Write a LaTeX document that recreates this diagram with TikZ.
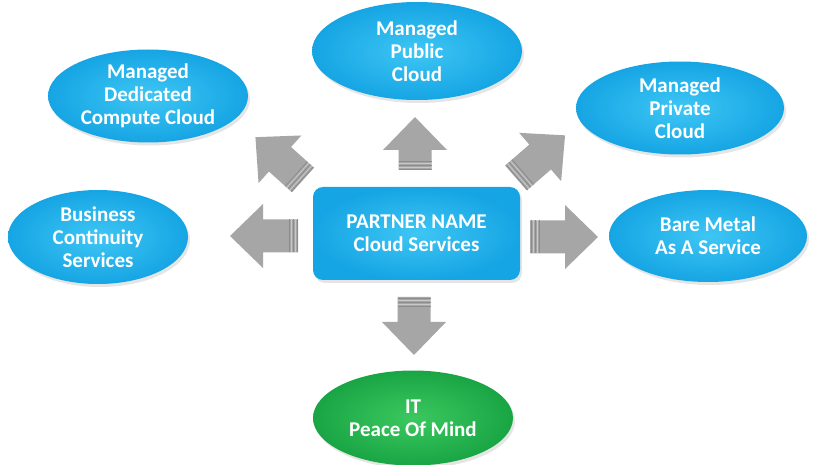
\documentclass[tikz,border=0pt]{standalone}
\usepackage{fontspec}
\setmainfont{Carlito}
\usetikzlibrary{shapes.geometric,shadows}
\definecolor{cyanIn}{RGB}{62,198,244}
\definecolor{cyanOut}{RGB}{22,165,228}
\definecolor{greenIn}{RGB}{60,200,95}
\definecolor{greenOut}{RGB}{25,165,68}
\definecolor{arrowGray}{RGB}{166,166,166}
\definecolor{stripeDark}{RGB}{140,140,140}
\definecolor{stripeLight}{RGB}{200,200,200}
\tikzset{
  cloudnode/.style={ellipse, draw=none, inner color=cyanIn, outer color=cyanOut,
    text=white, align=center, inner xsep=0pt, inner ysep=-10pt,
    drop shadow={opacity=0.2, shadow xshift=2pt, shadow yshift=-3pt}},
  greennode/.style={cloudnode, inner color=greenIn, outer color=greenOut},
  centerbox/.style={rectangle, rounded corners=10pt, draw=none, inner color=cyanIn,
    outer color=cyanOut, text=white, align=center,
    drop shadow={opacity=0.2, shadow xshift=2pt, shadow yshift=-3pt}},
  arrowbody/.style={fill=arrowGray, draw=none},
  stripeD/.style={draw=stripeDark, line width=0.8pt},
  stripeL/.style={draw=stripeLight, line width=0.8pt}
}
% #1 tail x, #2 tail y, #3 angle, #4 length
\newcommand{\blockarrow}[4]{%
  \begin{scope}[shift={(#1,#2)}, rotate=#3]
    \fill[arrowbody] (0,-16.5) -- (#4-33,-16.5) -- (#4-33,-32) -- (#4,0)
      -- (#4-33,32) -- (#4-33,16.5) -- (0,16.5) -- cycle;
    \draw[stripeD] (1,-16.5) -- (1,16.5);
    \draw[stripeL] (3,-16.5) -- (3,16.5);
    \draw[stripeD] (5,-16.5) -- (5,16.5);
    \draw[stripeL] (7,-16.5) -- (7,16.5);
    \draw[stripeD] (9,-16.5) -- (9,16.5);
  \end{scope}}
\begin{document}
\begin{tikzpicture}[x=1pt,y=-1pt,font=\bfseries\fontsize{21}{23}\selectfont]
\useasboundingbox (0,0) rectangle (820,465);
\fill[white] (0,0) rectangle (820,465);

% arrows
\blockarrow{415}{170}{90}{53}
\blockarrow{414}{297}{-90}{58}
\blockarrow{298}{236}{180}{68}
\blockarrow{530}{237}{0}{68}
\blockarrow{303}{180}{138}{64}
\blockarrow{516}{178}{41}{65}

% nodes
\node[centerbox, minimum width=207pt, minimum height=93pt] (center) at (416.5,233.5)
  {PARTNER NAME\\Cloud Services};
\node[cloudnode, minimum width=210pt, minimum height=98pt] (public) at (417,51)
  {Managed\\Public\\Cloud};
\node[cloudnode, minimum width=200pt, minimum height=93pt] (dedicated) at (148,96)
  {Managed\\Dedicated\\Compute Cloud};
\node[cloudnode, minimum width=208pt, minimum height=93pt] (private) at (680,108)
  {Managed\\Private\\Cloud};
\node[cloudnode, minimum width=180pt, minimum height=94pt] (business) at (98,237)
  {Business\\Continuity\\Services};
\node[cloudnode, minimum width=198pt, minimum height=92pt] (baremetal) at (708,236)
  {Bare Metal\\As A Service};
\node[greennode, minimum width=200pt, minimum height=95pt] (peace) at (413,418)
  {IT\\Peace Of Mind};
\end{tikzpicture}
\end{document}
